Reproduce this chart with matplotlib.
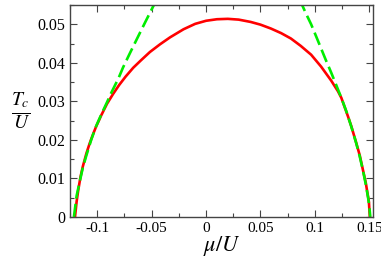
import matplotlib
matplotlib.use("Agg")
import matplotlib.pyplot as plt
from matplotlib.ticker import MultipleLocator, FuncFormatter

# red curve: T_c / U against mu / U
mu_red = [-0.1205, -0.1190, -0.1175, -0.1155, -0.1133, -0.1100, -0.1070, -0.1040,
          -0.1010, -0.0963, -0.0910, -0.0855, -0.0800, -0.0740, -0.0670, -0.0600,
          -0.0516, -0.0423, -0.0331, -0.0207, -0.0100, 0.0000, 0.0100, 0.0200,
          0.0300, 0.0410, 0.0500, 0.0595, 0.0690, 0.0780, 0.0870, 0.0966,
          0.1058, 0.1150, 0.1213, 0.1244, 0.1306, 0.1336, 0.1382, 0.1413,
          0.1444, 0.1469, 0.1484, 0.1497, 0.1506]
tc_red = [0.0000, 0.0040, 0.0070, 0.0103, 0.0131, 0.0165, 0.0191, 0.0214,
          0.0235, 0.0264, 0.0294, 0.0319, 0.0342, 0.0364, 0.0387, 0.0406,
          0.0428, 0.0448, 0.0466, 0.0487, 0.0501, 0.0509, 0.0513, 0.0514,
          0.0512, 0.0506, 0.0499, 0.0489, 0.0477, 0.0463, 0.0444, 0.0421,
          0.0390, 0.0354, 0.0326, 0.0309, 0.0260, 0.0235, 0.0191, 0.0160,
          0.0120, 0.0088, 0.0062, 0.0040, 0.0000]

# green dashed curve, left and right branches
mu_green_l = [-0.1215, -0.1190, -0.1155, -0.1133, -0.1100, -0.1056, -0.1010, -0.0963,
              -0.0910, -0.0870, -0.0805, -0.0763, -0.0700, -0.0639, -0.0560, -0.0476, -0.0440]
tc_green_l = [0.0000, 0.0055, 0.0100, 0.0128, 0.0160, 0.0200, 0.0236, 0.0266,
              0.0298, 0.0323, 0.0360, 0.0388, 0.0425, 0.0460, 0.0505, 0.0552, 0.0575]
mu_green_r = [0.0850, 0.0880, 0.0920, 0.0966, 0.1010, 0.1058, 0.1100, 0.1150, 0.1200, 0.1244,
              0.1290, 0.1336, 0.1380, 0.1413, 0.1444, 0.1469, 0.1490, 0.1502, 0.1510]
tc_green_r = [0.0570, 0.0552, 0.0527, 0.0500, 0.0470, 0.0437, 0.0408, 0.0375, 0.0340, 0.0309,
              0.0274, 0.0234, 0.0192, 0.0157, 0.0119, 0.0084, 0.0050, 0.0025, 0.0000]

plt.rcParams['font.family'] = 'Liberation Serif'
plt.rcParams['mathtext.fontset'] = 'stix'
plt.rcParams['axes.unicode_minus'] = False

fig = plt.figure(figsize=(3.81, 2.62), dpi=100)
ax = fig.add_axes([0.184, 0.172, 0.795, 0.809])

ax.plot(mu_red, tc_red, color='#ff0000', lw=1.9, solid_joinstyle='round')
ax.plot(mu_green_l, tc_green_l, color='#00ee00', lw=1.9, dashes=(5, 2))
ax.plot(mu_green_r, tc_green_r, color='#00ee00', lw=1.9, dashes=(5, 2))

ax.set_xlim(-0.125, 0.1535)
ax.set_ylim(0, 0.055)

fmt = FuncFormatter(lambda v, p: '%g' % round(v, 4))
ax.xaxis.set_major_locator(MultipleLocator(0.05))
ax.xaxis.set_minor_locator(MultipleLocator(0.025))
ax.yaxis.set_major_locator(MultipleLocator(0.01))
ax.yaxis.set_minor_locator(MultipleLocator(0.005))
ax.xaxis.set_major_formatter(fmt)
ax.yaxis.set_major_formatter(fmt)
ax.tick_params(which='both', direction='in', top=True, right=True, color='#444444', labelsize=11.5)
ax.tick_params(which='major', length=5, width=0.8)
ax.tick_params(which='minor', length=3, width=0.8)
ax.tick_params(axis='x', pad=4, labelsize=11)
for s in ax.spines.values():
    s.set_color('#444444')
    s.set_linewidth(1.0)

ax.set_xlabel(r'$\mu/U$', fontsize=16, labelpad=-1)
ax.set_ylabel(r'$\frac{T_c}{U}$', fontsize=20, rotation=0, labelpad=12, va='center')

fig.savefig('out.png', dpi=100)
